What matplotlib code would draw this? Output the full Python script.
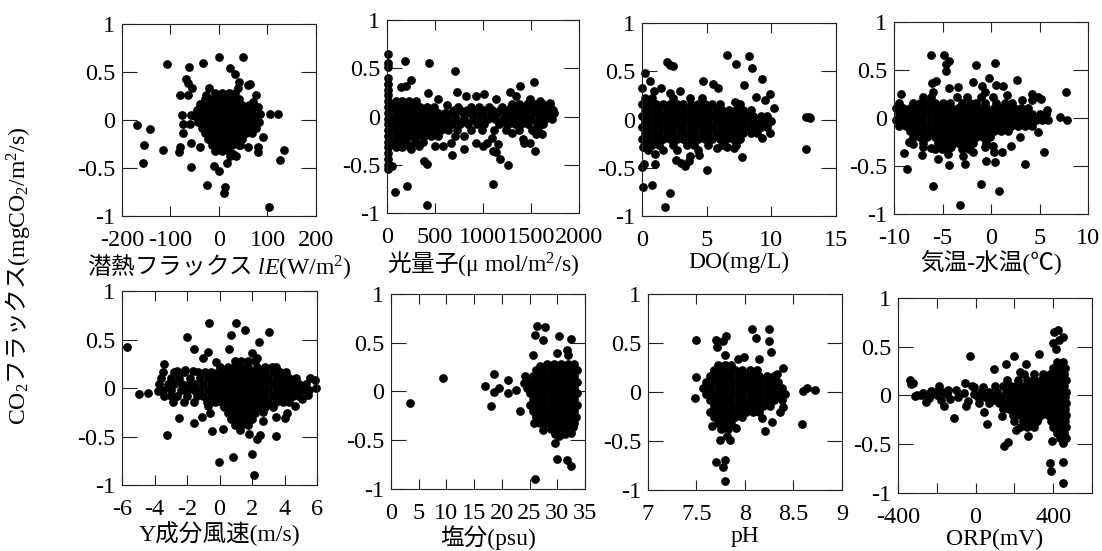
import numpy as np
import matplotlib
matplotlib.use("Agg")
import matplotlib.pyplot as plt

plt.rcParams['font.family'] = ['Liberation Serif', 'Noto Sans CJK JP']
plt.rcParams['mathtext.fontset'] = 'custom'
plt.rcParams['mathtext.rm'] = 'Liberation Serif'
plt.rcParams['mathtext.it'] = 'Liberation Serif:italic'
plt.rcParams['axes.unicode_minus'] = False

# ---- CO2 flux against each variable: (y, [x...]) rows of the dense cloud + scattered points ----

le_rows = [
    (0.28, [-8, 6, 20, 34]),
    (0.22, [-29, -15, -1, 13, 27, 41]),
    (0.16, [-36, -22, -8, 6, 20, 34, 48, 62]),
    (0.10, [-43, -29, -15, -1, 13, 27, 41, 55, 69]),
    (0.04, [-50, -36, -22, -8, 6, 20, 34, 48, 62, 76]),
    (-0.02, [-43, -29, -15, -1, 13, 27, 41, 55, 69, 83]),
    (-0.08, [-36, -22, -8, 6, 20, 34, 48, 62, 76]),
    (-0.14, [-29, -15, -1, 13, 27, 41, 55, 69]),
    (-0.20, [-22, -8, 6, 20, 34, 48]),
    (-0.26, [-15, -1, 13, 27, 41]),
    (-0.32, [-8, 6, 20]),
]
le_pts = [(-108, 0.58), (-33, 0.59), (-62, 0.55), (1, 0.66), (50, 0.66), (22, 0.54), (33, 0.48),
          (42, 0.40), (65, 0.37), (-67, 0.43), (-64, 0.39), (-55, 0.33), (-80, 0.26), (-63, 0.26),
          (77, 0.26), (-169, -0.05), (-143, -0.09), (-155, -0.26), (-116, -0.31), (-157, -0.45),
          (-83, -0.33), (-75, -0.14), (-58, -0.49), (-10, -0.48), (0, -0.53), (-24, -0.68),
          (13, -0.70), (11, -0.76), (104, -0.91), (106, 0.06), (122, 0.06), (134, -0.31),
          (126, -0.42), (90, -0.18), (81, -0.28), (81, -0.33), (60, -0.28), (43, -0.26),
          (29, -0.35), (16, -0.45), (22, -0.38), (35, -0.38), (84, 0.06), (81, 0.14), (70, 0.19),
          (-77, 0.05), (-74, -0.04), (-57, 0.05), (-59, -0.04), (-81, -0.28), (-57, -0.24),
          (-40, -0.28), (-40, 0.17), (-46, 0.10), (-26, 0.26), (-20, 0.33), (40, 0.33), (60, 0.36)]

par_rows = [
    (0.40, [5]), (0.34, [5]), (0.28, [5]), (0.22, [5]),
    (0.16, [5, 90, 160, 230, 300]),
    (0.13, [1300, 1380, 1460, 1540, 1620, 1700]),
    (0.10, [5, 55, 128, 200, 273, 346, 420, 490, 740, 880, 960, 1060, 1200, 1290, 1420, 1520, 1610, 1680]),
    (0.07, [700, 760, 830, 900, 1000, 1090, 1180, 1260, 1340, 1400, 1480, 1550, 1640, 1700]),
    (0.04, [5, 90, 163, 236, 310, 383, 456, 530, 600, 670, 710, 790, 860, 930, 1000, 1080, 1150,
            1230, 1300, 1370, 1450, 1530, 1600, 1670, 1740]),
    (-0.02, [5, 55, 128, 200, 273, 346, 420, 493, 566, 640, 720, 800, 900, 980, 1050, 1120, 1210,
             1280, 1350, 1430, 1500, 1580, 1650, 1720]),
    (-0.08, [5, 90, 163, 236, 310, 383, 456, 530, 600, 675, 760, 840, 940, 1010, 1170, 1260, 1330,
             1400, 1470, 1560, 1630]),
    (-0.14, [5, 55, 128, 200, 273, 346, 420, 493, 566, 640, 730, 870, 990, 1110, 1240, 1380, 1510]),
    (-0.20, [5, 90, 163, 236, 310, 383, 456, 530]),
    (-0.26, [5, 55, 128, 200, 290, 380]),
    (-0.32, [5, 90, 160]),
    (-0.38, [5]), (-0.44, [5]), (-0.50, [5]),
]
par_pts = [(190, 0.58), (440, 0.56), (706, 0.47), (1530, 0.36), (1390, 0.32), (253, 0.38), (149, 0.31),
           (200, 0.32), (727, 0.26), (820, 0.21), (927, 0.21), (1007, 0.23), (1135, 0.18), (1280, 0.25),
           (1343, 0.21), (1488, 0.18), (1592, 0.16), (1696, 0.14), (1730, 0.07), (425, 0.24), (526, 0.18),
           (630, 0.12), (225, -0.31), (330, -0.31), (253, -0.34), (495, -0.31), (578, -0.31), (671, -0.27),
           (709, -0.20), (675, -0.40), (803, -0.34), (803, -0.20), (927, -0.27), (1003, -0.30),
           (1038, -0.27), (1090, -0.22), (1156, -0.28), (1100, -0.36), (1131, -0.37), (1176, -0.44),
           (1256, -0.50), (1104, -0.70), (1426, -0.27), (1419, -0.23), (1488, -0.27), (1540, -0.36),
           (1550, -0.18), (1619, -0.18), (1574, -0.12), (1298, -0.17), (1246, -0.09), (388, -0.46),
           (415, -0.49), (55, -0.51), (87, -0.78), (204, -0.72), (415, -0.92), (7, -0.54), (10, 0.51),
           (7, 0.65), (10, 0.56)]

do_rows = [
    (0.22, [0.2, 0.8, 2.4, 3.7, 4.6]),
    (0.16, [0.0, 0.5, 1.1, 1.6, 2.2, 2.7, 3.2, 3.8, 4.3, 4.9, 5.4, 6.0, 7.6]),
    (0.10, [0.2, 0.8, 1.3, 1.9, 2.4, 3.0, 3.5, 4.0, 4.6, 5.1, 5.7, 6.2, 6.7, 7.3, 7.8, 8.4]),
    (0.04, [0.0, 0.5, 1.1, 1.6, 2.2, 2.7, 3.2, 3.8, 4.3, 4.9, 5.4, 6.0, 6.5, 7.0, 7.6, 8.1, 8.6, 9.2, 9.7]),
    (-0.02, [0.2, 0.8, 1.3, 1.9, 2.4, 3.0, 3.5, 4.0, 4.6, 5.1, 5.7, 6.2, 6.7, 7.3, 7.8, 8.4, 8.9, 9.4, 10.0]),
    (-0.08, [0.0, 0.5, 1.1, 1.6, 2.2, 2.7, 3.2, 3.8, 4.3, 4.9, 5.4, 6.0, 6.5, 7.0, 7.6, 8.1, 8.6, 9.2, 9.7]),
    (-0.14, [0.2, 0.8, 1.3, 1.9, 2.4, 3.0, 3.5, 4.0, 4.6, 5.1, 5.7, 6.2, 6.7, 7.3, 7.8, 8.4, 8.9]),
    (-0.20, [0.0, 0.5, 1.1, 1.6, 2.2, 2.7, 3.2, 3.8, 4.3, 4.9, 5.4, 6.0, 6.5, 7.0, 7.6]),
    (-0.26, [0.2, 0.8, 1.3, 2.4, 3.5, 4.0, 5.1, 6.2, 7.3]),
    (-0.32, [0.5, 1.6, 2.7, 4.3]),
]
do_pts = [(0.26, 0.48), (0.6, 0.40), (0.0, 0.33), (1.9, 0.60), (2.2, 0.57), (2.4, 0.56), (1.5, 0.33),
          (0.9, 0.30), (2.2, 0.28), (2.9, 0.30), (4.7, 0.40), (5.5, 0.37), (5.9, 0.33), (6.6, 0.67),
          (7.3, 0.58), (8.3, 0.66), (8.5, 0.53), (7.9, 0.36), (9.3, 0.42), (8.8, 0.23), (9.9, 0.26),
          (9.5, 0.20), (10.2, 0.12), (7.2, 0.18), (12.7, 0.03), (12.9, 0.03), (13.0, 0.02),
          (12.7, -0.31), (9.9, -0.14), (9.3, -0.19), (7.7, -0.39), (5.0, -0.52), (2.65, -0.42),
          (3.0, -0.45), (3.3, -0.48), (3.65, -0.43), (3.7, -0.38), (4.4, -0.37), (1.0, -0.36),
          (1.0, -0.46), (0.13, -0.46), (0.0, -0.49), (0.05, -0.70), (0.8, -0.68), (2.2, -0.76),
          (1.8, -0.91), (0.1, -0.28), (5.8, -0.30), (6.6, -0.28), (7.1, -0.30)]

dt_rows = [
    (0.22, [-7.0, -6.2, -3.5, -2.5, -1.0, 0.2]),
    (0.16, [-9.5, -8.0, -7.3, -6.6, -5.8, -5.0, -4.2, -3.0, -2.2, -1.5, -0.6, 0.5, 1.4, 2.2]),
    (0.10, [-9.8, -9.1, -8.4, -7.7, -7.0, -6.2, -5.5, -4.8, -4.1, -3.4, -2.6, -1.9, -1.2, -0.5,
            0.3, 1.0, 1.7, 2.4, 3.1, 3.8]),
    (0.04, [-9.5, -8.8, -8.0, -7.3, -6.6, -5.8, -5.1, -4.4, -3.7, -3.0, -2.3, -1.5, -0.8, -0.1,
            0.6, 1.4, 2.1, 2.8, 3.5, 4.2, 5.0, 5.7]),
    (-0.02, [-9.8, -9.1, -8.4, -7.7, -7.0, -6.2, -5.5, -4.8, -4.1, -3.4, -2.6, -1.9, -1.2, -0.5,
             0.3, 1.0, 1.7, 2.4, 3.1, 3.8, 4.6, 5.3]),
    (-0.08, [-9.5, -8.8, -8.0, -7.3, -6.6, -5.8, -5.1, -4.4, -3.7, -3.0, -2.3, -1.5, -0.8, -0.1,
             0.6, 1.4, 2.1, 2.8, 3.5, 4.2]),
    (-0.14, [-8.4, -7.7, -7.0, -6.2, -5.5, -4.8, -4.1, -3.4, -2.6, -1.9, -1.2, -0.5, 0.3, 1.0, 1.7]),
    (-0.20, [-8.0, -7.3, -6.6, -5.8, -5.1, -4.4, -3.7, -3.0, -2.3, -1.5, -0.8, -0.1]),
    (-0.26, [-7.0, -5.5, -4.8, -4.1, -3.4, -2.6, -1.9, -0.5]),
    (-0.32, [-5.8, -5.1, -4.4, -3.0, -2.3]),
]
dt_pts = [(-6.2, 0.66), (-4.85, 0.66), (-4.3, 0.59), (-4.6, 0.56), (-4.6, 0.49), (-1.5, 0.55),
          (0.45, 0.57), (-0.25, 0.42), (-1.9, 0.38), (-6.1, 0.36), (-5.7, 0.39), (2.7, 0.40),
          (1.2, 0.33), (0.5, 0.34), (-3.4, 0.32), (-4.3, 0.31), (-6.0, 0.27), (-9.3, 0.25),
          (-0.9, 0.33), (-0.65, 0.27), (1.6, 0.24), (3.2, 0.19), (4.2, 0.25), (4.2, 0.19),
          (4.85, 0.22), (5.2, 0.20), (7.7, 0.27), (7.1, 0.01), (7.8, -0.02), (5.8, 0.08),
          (5.9, -0.02), (4.85, -0.15), (5.5, -0.35), (3.5, -0.48), (2.95, -0.20), (2.1, -0.29),
          (1.1, -0.35), (0.4, -0.46), (-0.5, -0.45), (-1.05, -0.69), (0.8, -0.76), (-3.2, -0.91),
          (-6.0, -0.71), (-8.7, -0.53), (-9.0, -0.36), (-7.1, -0.39), (-5.5, -0.43), (-4.3, -0.49),
          (-2.7, -0.48), (-2.9, -0.40), (-1.9, -0.35), (-8.45, -0.25), (-8.0, -0.27), (-7.0, -0.30),
          (-6.2, -0.31), (-4.4, -0.37), (-4.1, -0.30), (0.2, -0.29), (0.3, -0.35), (-0.65, -0.30)]

wy_rows = [
    (0.28, [0.95, 1.35, 1.75, 2.2]),
    (0.22, [0.0, 0.5, 0.95, 1.35, 1.75, 2.3, 2.8, 3.2]),
    (0.16, [-3.5, -2.8, -2.2, -1.3, -0.9, -0.5, -0.1, 0.3, 0.7, 1.15, 1.55, 2.0, 2.4, 2.8, 3.3, 3.7, 4.1]),
    (0.10, [-3.6, -3.0, -2.5, -1.8, -1.2, -0.7, -0.3, 0.1, 0.5, 0.95, 1.35, 1.75, 2.2, 2.6, 3.0, 3.5,
            3.9, 4.3, 4.7]),
    (0.04, [-3.7, -3.2, -2.8, -2.3, -1.9, -1.5, -1.0, -0.5, -0.1, 0.3, 0.7, 1.15, 1.55, 2.0, 2.4, 2.8,
            3.3, 3.7, 4.1, 4.5, 4.9, 5.3]),
    (-0.02, [-3.5, -3.0, -2.4, -2.0, -1.6, -1.2, -0.7, -0.3, 0.1, 0.5, 0.95, 1.35, 1.75, 2.2, 2.6, 3.0,
             3.5, 3.9, 4.3, 4.7, 5.1, 5.5]),
    (-0.08, [-3.0, -2.6, -2.0, -1.4, -1.0, -0.5, -0.1, 0.3, 0.7, 1.15, 1.55, 2.0, 2.4, 2.8, 3.3, 3.7,
             4.1, 4.5, 4.9]),
    (-0.14, [-2.2, -1.6, -0.8, -0.3, 0.1, 0.5, 0.95, 1.35, 1.75, 2.2, 2.6, 3.0, 3.5, 3.9, 4.3]),
    (-0.20, [0.3, 0.7, 1.15, 1.55, 2.0, 2.4, 2.8, 3.3]),
    (-0.26, [0.5, 0.95, 1.35, 1.75, 2.2]),
    (-0.32, [0.7, 1.15, 1.55, 2.0]),
    (-0.38, [0.95, 1.35, 1.75]),
]
wy_pts = [(-5.7, 0.42), (-0.63, 0.67), (1.04, 0.67), (1.57, 0.60), (3.07, 0.58), (0.7, 0.55),
          (-2.03, 0.53), (2.45, 0.47), (-1.6, 0.40), (-0.73, 0.37), (0.6, 0.40), (-1.04, 0.31),
          (-0.2, 0.27), (-3.4, 0.25), (2.0, 0.36), (2.3, 0.31), (-2.6, 0.18), (-2.1, 0.19),
          (-1.65, 0.18), (3.5, 0.22), (-4.95, -0.06), (-4.4, -0.05), (-3.8, -0.03), (-3.4, -0.08),
          (-2.85, -0.14), (-2.5, -0.31), (-3.26, -0.48), (-1.56, -0.36), (-1.1, -0.30), (-0.47, -0.44),
          (-0.6, -0.26), (-0.7, -0.19), (0.23, -0.42), (-0.03, -0.76), (0.83, -0.71), (2.0, -0.68),
          (2.1, -0.90), (2.3, -0.53), (2.5, -0.48), (3.5, -0.49), (4.0, -0.31), (4.15, -0.26),
          (3.5, -0.30), (2.7, -0.34), (2.7, -0.25), (5.85, 0.08), (5.95, 0.0), (5.55, 0.10),
          (5.45, -0.07), (4.65, -0.19), (5.07, -0.11), (1.8, -0.47), (1.26, -0.43)]

sal_rows = [
    (0.28, [28.1, 29.4, 30.6, 31.9, 33.1]),
    (0.22, [26.2, 27.5, 28.8, 30.0, 31.3, 32.5, 33.5]),
    (0.16, [25.6, 26.9, 28.1, 29.4, 30.6, 31.9, 33.1]),
    (0.10, [25.0, 26.2, 27.5, 28.8, 30.0, 31.3, 32.5, 33.5]),
    (0.04, [24.5, 25.6, 26.9, 28.1, 29.4, 30.6, 31.9, 33.1]),
    (-0.02, [25.0, 26.2, 27.5, 28.8, 30.0, 31.3, 32.5, 33.5]),
    (-0.08, [25.6, 26.9, 28.1, 29.4, 30.6, 31.9, 33.1]),
    (-0.14, [26.2, 27.5, 28.8, 30.0, 31.3, 32.5, 33.5]),
    (-0.20, [25.6, 26.9, 28.1, 29.4, 30.6, 31.9, 33.1]),
    (-0.26, [26.2, 27.5, 28.8, 30.0, 31.3, 32.5, 33.4]),
    (-0.32, [26.9, 28.1, 29.4, 30.6, 31.9, 33.1]),
    (-0.38, [28.8, 30.0, 31.3, 32.5]),
]
sal_pts = [(3.4, -0.12), (9.3, 0.135), (17.05, 0.053), (18.5, 0.18), (18.6, -0.005), (19.45, 0.036),
           (18.1, -0.145), (21.1, 0.115), (21.1, -0.02), (22.6, 0.02), (23.3, -0.2), (24.0, 0.09),
           (24.1, 0.16), (25.7, 0.37), (26.05, 0.58), (26.3, 0.67), (27.85, 0.66), (27.4, 0.53),
           (30.3, 0.57), (29.9, 0.39), (31.7, 0.43), (32.5, 0.54), (31.9, 0.37), (25.9, -0.90),
           (30.0, -0.69), (31.8, -0.70), (32.5, -0.76), (29.6, -0.53), (30.25, -0.46), (31.4, -0.44),
           (32.4, -0.43), (27.4, -0.39), (25.75, -0.32), (25.0, -0.14), (29.6, -0.44), (32.9, -0.36),
           (30.6, 0.26), (32.5, 0.265), (26.9, 0.26)]

ph_rows = [
    (0.28, [7.72, 7.79, 7.86]),
    (0.22, [7.68, 7.75, 7.83, 7.90, 7.97, 8.05, 8.12]),
    (0.16, [7.64, 7.72, 7.79, 7.86, 7.94, 8.01, 8.08, 8.15, 8.23, 8.30]),
    (0.10, [7.60, 7.68, 7.75, 7.83, 7.90, 7.97, 8.05, 8.12, 8.19, 8.26, 8.34]),
    (0.04, [7.57, 7.64, 7.72, 7.79, 7.86, 7.94, 8.01, 8.08, 8.15, 8.23, 8.30, 8.38]),
    (-0.02, [7.60, 7.68, 7.75, 7.83, 7.90, 7.97, 8.05, 8.12, 8.19, 8.26, 8.34, 8.41]),
    (-0.08, [7.64, 7.72, 7.79, 7.86, 7.94, 8.01, 8.08, 8.15, 8.23, 8.30, 8.38]),
    (-0.14, [7.68, 7.75, 7.83, 7.90, 7.97, 8.05, 8.12, 8.19, 8.26]),
    (-0.20, [7.64, 7.72, 7.79, 7.86, 7.94, 8.01, 8.08, 8.15]),
    (-0.26, [7.68, 7.75, 7.83, 7.90, 7.97]),
    (-0.32, [7.72, 7.79, 7.86]),
    (-0.38, [7.75, 7.83]),
]
ph_pts = [(7.50, 0.53), (7.70, 0.53), (7.77, 0.52), (7.80, 0.57), (7.71, 0.46), (7.79, 0.38),
          (8.07, 0.64), (8.11, 0.55), (8.25, 0.64), (8.25, 0.52), (8.27, 0.41), (8.14, 0.34),
          (7.99, 0.36), (7.93, 0.34), (8.39, 0.24), (8.33, 0.18), (7.50, 0.15), (7.49, -0.06),
          (8.60, 0.015), (8.64, 0.04), (8.72, 0.02), (8.59, -0.33), (8.39, -0.155), (8.36, -0.20),
          (8.28, -0.31), (8.21, -0.40), (8.18, -0.27), (7.91, -0.37), (7.85, -0.49), (7.81, -0.45),
          (7.74, -0.49), (7.66, -0.35), (7.70, -0.71), (7.77, -0.77), (7.79, -0.69), (7.79, -0.91),
          (8.02, 0.09)]

orp_rows = [
    (0.34, [420, 450]),
    (0.28, [400, 436, 462]),
    (0.22, [250, 300, 350, 382, 418, 454]),
    (0.16, [160, 220, 264, 300, 336, 372, 400, 436, 465]),
    (0.10, [100, 140, 180, 210, 246, 282, 318, 354, 390, 418, 454]),
    (0.04, [30, 70, 110, 156, 192, 228, 264, 300, 336, 372, 408, 440, 468]),
    (-0.02, [10, 50, 90, 130, 174, 210, 246, 282, 318, 354, 390, 426, 460]),
    (-0.08, [70, 120, 156, 192, 228, 264, 300, 336, 372, 408, 440, 468]),
    (-0.14, [140, 174, 210, 246, 282, 318, 354, 390, 426, 460]),
    (-0.20, [192, 228, 264, 300, 336, 372, 408, 440, 468]),
    (-0.26, [200, 246, 282, 318, 390, 426, 460]),
    (-0.32, [228, 264, 300, 400, 440, 466]),
    (-0.38, [418, 454]),
    (-0.44, [436, 465]),
]
orp_pts = [(-336, 0.16), (-322, 0.13), (-331, 0.115), (-314, -0.01), (-284, 0.0), (-257, -0.07),
           (-236, 0.015), (-228, 0.05), (-188, 0.10), (-167, 0.04), (-164, -0.11), (-112, -0.235),
           (-29, 0.40), (-55, 0.125), (-47, -0.11), (-7, 0.085), (36, 0.085), (45, -0.17), (57, -0.29),
           (88, -0.05), (95, 0.27), (155, 0.32), (200, 0.40), (134, -0.21), (147, -0.52),
           (169, -0.475), (209, -0.35), (269, -0.42), (324, -0.23), (328, 0.43), (402, 0.65),
           (424, 0.67), (398, 0.54), (428, 0.57), (416, 0.475), (450, 0.60), (384, -0.69),
           (388, -0.77), (453, -0.68), (453, -0.90), (393, -0.465), (452, -0.49), (402, -0.32),
           (260, 0.32), (229, 0.245), (-300, 0.0), (-270, 0.03), (-240, -0.03), (-200, 0.0),
           (-180, -0.05), (-150, 0.02), (-130, -0.04), (-100, 0.06), (-90, -0.02), (-60, 0.03),
           (-40, -0.06), (-20, 0.1), (-10, 0.02), (20, -0.08), (-140, 0.06), (-200, 0.05)]

y_ticks = [-1, -0.5, 0, 0.5, 1]
y_ticklabels = ['-1', '-0.5', '0', '0.5', '1']

panels = [
    # rect, rows, points, xlim, xticks, xticklabels, xlabel, mathtext label
    ([0.1107, 0.608, 0.176, 0.3485], le_rows, le_pts, (-200, 200), [-200, -100, 0, 100, 200],
     ['-200', '-100', '0', '100', '200'], r'潜熱フラックス $lE\mathrm{(W/m^2)}$', True),
    ([0.3512, 0.6134, 0.1742, 0.350], par_rows, par_pts, (0, 2000), [0, 500, 1000, 1500, 2000],
     ['0', '500', '1000', '1500', '2000'], r'光量子$\mathrm{(\mu\ mol/m^2/s)}$', True),
    ([0.5826, 0.608, 0.176, 0.350], do_rows, do_pts, (0, 15), [0, 5, 10, 15],
     ['0', '5', '10', '15'], 'DO(mg/L)', False),
    ([0.8113, 0.6116, 0.176, 0.3485], dt_rows, dt_pts, (-10, 10), [-10, -5, 0, 5, 10],
     ['-10', '-5', '0', '5', '10'], '気温-水温(℃)', False),
    ([0.1107, 0.1198, 0.177, 0.352], wy_rows, wy_pts, (-6, 6), [-6, -4, -2, 0, 2, 4, 6],
     ['-6', '-4', '-2', '0', '2', '4', '6'], 'Y成分風速(m/s)', False),
    ([0.3548, 0.1125, 0.176, 0.354], sal_rows, sal_pts, (0, 35), [0, 5, 10, 15, 20, 25, 30, 35],
     ['0', '5', '10', '15', '20', '25', '30', '35'], '塩分(psu)', False),
    ([0.588, 0.1107, 0.176, 0.3557], ph_rows, ph_pts, (7, 9), [7, 7.5, 8, 8.5, 9],
     ['7', '7.5', '8', '8.5', '9'], 'pH', False),
    ([0.8149, 0.1053, 0.176, 0.354], orp_rows, orp_pts, (-400, 600), [-400, -200, 0, 200, 400, 600],
     ['-400', '', '0', '', '400', ''], 'ORP(mV)', False),
]

fig = plt.figure(figsize=(11.02, 5.51), dpi=100)

for rect, rows, pts, xlim, xticks, xtl, xlabel, is_math in panels:
    ax = fig.add_axes(rect)
    xs = [x for y, row in rows for x in row] + [p[0] for p in pts]
    ys = [y for y, row in rows for x in row] + [p[1] for p in pts]
    ax.plot(xs, ys, 'o', color='black', ms=6.3, mew=0, clip_on=False)
    ax.set_xlim(*xlim)
    ax.set_ylim(-1, 1)
    ax.set_xticks(xticks)
    ax.set_xticklabels(xtl)
    ax.set_yticks(y_ticks)
    ax.set_yticklabels(y_ticklabels)
    ax.tick_params(axis='x', direction='in', length=7, width=0.8, top=True, pad=10,
                   labelsize=17.5, color='#222222')
    ax.tick_params(axis='y', direction='in', length=10.5, width=0.8, right=True, pad=5,
                   labelsize=17.5, color='#222222')
    for sp in ax.spines.values():
        sp.set_linewidth(0.8)
        sp.set_color('#222222')
    if is_math:
        ax.set_xlabel(xlabel, fontsize=17, labelpad=1, family='Noto Sans CJK JP')
    else:
        ax.set_xlabel(xlabel, fontsize=17, labelpad=1)

fig.text(0.016, 0.5, r'$\mathrm{CO_2}$フラックス$\mathrm{(mgCO_2/m^2/s)}$',
         rotation=90, va='center', ha='center', fontsize=17, family='Noto Sans CJK JP')

fig.savefig('out.png', dpi=100)
